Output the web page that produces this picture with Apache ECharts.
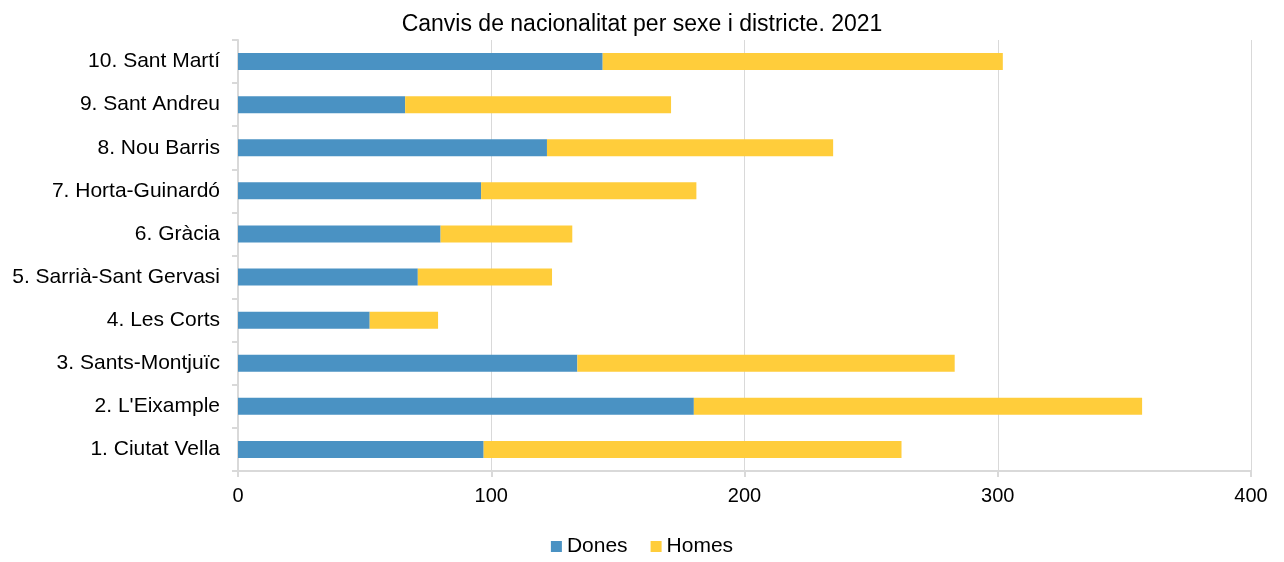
<!DOCTYPE html>
<html>
<head>
<meta charset="utf-8">
<script src="https://cdn.jsdelivr.net/npm/echarts@6/dist/echarts.min.js"></script>
<style>
  html, body { margin: 0; padding: 0; background: #fff; }
  #chart { width: 1284px; height: 562px; }
</style>
</head>
<body>
<div id="chart"></div>
<script>
  // districtes, de baix a dalt
  let districtes = ['1. Ciutat Vella', "2. L'Eixample", '3. Sants-Montjuïc', '4. Les Corts',
    '5. Sarrià-Sant Gervasi', '6. Gràcia', '7. Horta-Guinardó', '8. Nou Barris',
    '9. Sant Andreu', '10. Sant Martí'];
  let dones = [97, 180, 134, 52, 71, 80, 96, 122, 66, 144];
  let homes = [165, 177, 149, 27, 53, 52, 85, 113, 105, 158];
  let xTicks = [0, 100, 200, 300, 400];

  let font = 'Liberation Sans, Arial, sans-serif';
  let myChart = echarts.init(document.getElementById('chart'));
  let option = {
    animation: false,
    color: ['#4A92C3', '#FFCD3B'],
    title: {
      text: 'Canvis de nacionalitat per sexe i districte. 2021',
      left: 'center',
      top: 8,
      textStyle: { fontFamily: font, fontSize: 23, fontWeight: 'normal', color: '#000' }
    },
    legend: {
      data: ['Dones', 'Homes'],
      bottom: 0,
      left: 'center',
      icon: 'rect',
      itemWidth: 11,
      itemHeight: 11,
      itemGap: 23,
      textStyle: { fontFamily: font, fontSize: 21, color: '#000' }
    },
    grid: { left: 238, right: 33, top: 40, bottom: 91 },
    xAxis: {
      type: 'value',
      min: xTicks[0],
      max: xTicks[xTicks.length - 1],
      interval: 100,
      axisLine: { show: true, lineStyle: { color: '#d9d9d9', width: 2 } },
      axisTick: { show: true, length: 6, lineStyle: { color: '#d9d9d9', width: 2 } },
      splitLine: { lineStyle: { color: '#d9d9d9', width: 1 } },
      axisLabel: { fontFamily: font, fontSize: 20, color: '#000', margin: 15 }
    },
    yAxis: {
      type: 'category',
      data: districtes,
      axisLine: { show: true, lineStyle: { color: '#d9d9d9', width: 2 } },
      axisTick: { show: true, length: 6, lineStyle: { color: '#d9d9d9', width: 2 } },
      axisLabel: { fontFamily: font, fontSize: 21, color: '#000', margin: 18 }
    },
    series: [
      { name: 'Dones', type: 'bar', stack: 'total', data: dones, barWidth: 17 },
      { name: 'Homes', type: 'bar', stack: 'total', data: homes, barWidth: 17 }
    ]
  };
  myChart.setOption(option);
</script>
</body>
</html>
